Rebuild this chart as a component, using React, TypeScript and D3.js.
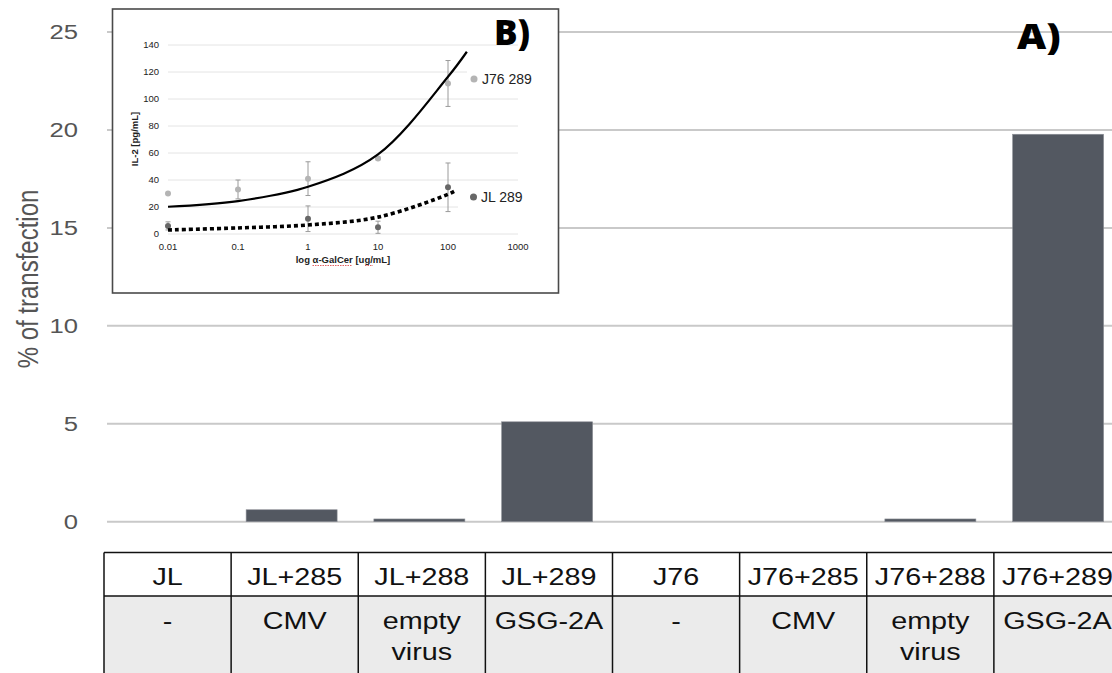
import React from "react";
import * as d3 from "d3";

// ---------- Data: panel A ----------
const categories = ["JL", "JL+285", "JL+288", "JL+289", "J76", "J76+285", "J76+288", "J76+289"];
const vectors = ["-", "CMV", "empty|virus", "GSG-2A", "-", "CMV", "empty|virus", "GSG-2A"];
const transfection = [0, 0.61, 0.14, 5.1, 0, 0, 0.14, 19.78];
const yTicks = [0, 5, 10, 15, 20, 25];

// ---------- Data: panel B (inset) ----------
const doses = [0.01, 0.1, 1, 10, 100];
const j76Mean = [30, 33, 41, 56, 111.5];
const j76Err = [0, 7, 12.5, 1, 17];
const jlMean: (number | null)[] = [6, null, 11.3, 5, 34.6];
const jlErr = [3, 0, 9.5, 4.5, 18];
const j76TrendX = [0.01, 0.1, 1, 10, 100, 186];
const j76TrendY = [20.2, 24.4, 35, 59, 116.5, 135];
const jlTrendX = [0.01, 0.1, 1, 10, 100, 133];
const jlTrendY = [3, 4.5, 6.7, 12.5, 29.4, 32.6];
const insetYTicks = [0, 20, 40, 60, 80, 100, 120, 140];
const insetXTicks = [0.01, 0.1, 1, 10, 100, 1000];
const insetXTickLabels = ["0.01", "0.1", "1", "10", "100", "1000"];

const SX = 1.25; // horizontal stretch of the main panel text
const SANS = "'Liberation Sans', Arial, Helvetica, sans-serif";

export default function App() {
  const W = 1112, H = 673;
  // main scales
  const y = d3.scaleLinear().domain([0, 25]).range([521.7, 32]);
  const x = d3.scaleBand<string>().domain(categories).range([100, 1122]).padding(0);
  const barW = 91;
  const tx = d3.scaleBand<string>().domain(categories).range([104, 1121]).padding(0);

  // inset scales
  const ix = d3.scaleLog().domain([0.01, 1000]).range([168, 518]);
  const iy = d3.scaleLinear().domain([0, 140]).range([234, 45]);
  const line = d3
    .line<[number, number]>()
    .x((d) => ix(d[0]))
    .y((d) => iy(d[1]))
    .curve(d3.curveCatmullRom.alpha(0.5));
  const j76Path = line(j76TrendX.map((v, i) => [v, j76TrendY[i]] as [number, number])) || "";
  const jlPath = line(jlTrendX.map((v, i) => [v, jlTrendY[i]] as [number, number])) || "";

  const tableTop = 552.5;
  const rowDiv = 596;

  return (
    <svg width={W} height={H} style={{ position: "absolute", left: 0, top: 0, background: "#fff" }}>
      <rect x={0} y={0} width={W} height={H} fill="#fff" />
      {/* gridlines */}
      {yTicks.map((t) => (
        <line key={"g" + t} x1={107} x2={W} y1={y(t)} y2={y(t)} stroke="#c9c9c9" strokeWidth={2} />
      ))}
      {/* y tick labels */}
      {yTicks.map((t) => (
        <text
          key={"t" + t}
          transform={`translate(78,${y(t)}) scale(${SX},1)`}
          textAnchor="end"
          dy="0.36em"
          fontFamily={SANS}
          fontSize={20.5}
          fill="#555"
        >
          {t}
        </text>
      ))}
      {/* y title */}
      <text
        transform={`translate(27,279) scale(${SX},1) rotate(-90)`}
        textAnchor="middle"
        dy="0.36em"
        fontFamily={SANS}
        fontSize={24}
        fill="#555"
      >
        % of transfection
      </text>
      {/* bars */}
      {categories.map((c, i) => {
        const v = transfection[i];
        if (v <= 0) return null;
        const bx = (x(c) as number) + (x.bandwidth() - barW) / 2;
        return (
          <rect
            key={"b" + c}
            x={bx}
            y={y(v)}
            width={barW}
            height={y(0) - y(v)}
            fill="#535861"
            stroke="#8d9097"
            strokeWidth={0.6}
          />
        );
      })}
      {/* A) label */}
      <text
        transform={`translate(1017,49) scale(1.15,1)`}
        fontFamily="'Open Sans', sans-serif"
        fontWeight={800}
        fontSize={35}
        fill="#000"
      >
        A)
      </text>

      {/* table */}
      <rect x={104} y={rowDiv} width={W - 104} height={H - rowDiv} fill="#ebebeb" />
      <line x1={104} x2={W} y1={tableTop} y2={tableTop} stroke="#111" strokeWidth={1.5} />
      <line x1={104} x2={W} y1={rowDiv} y2={rowDiv} stroke="#111" strokeWidth={1.5} />
      {categories.map((c) => (
        <line
          key={"v" + c}
          x1={tx(c) as number}
          x2={tx(c) as number}
          y1={tableTop}
          y2={H}
          stroke="#111"
          strokeWidth={1.5}
        />
      ))}
      {categories.map((c) => {
        const cx = (tx(c) as number) + tx.bandwidth() / 2;
        return (
          <text
            key={"h" + c}
            transform={`translate(${cx},585) scale(${SX},1)`}
            textAnchor="middle"
            fontFamily={SANS}
            fontSize={23}
            fill="#111"
          >
            {c}
          </text>
        );
      })}
      {vectors.map((v, i) => {
        const c = categories[i];
        const cx = (tx(c) as number) + tx.bandwidth() / 2;
        const parts = v.split("|");
        return parts.map((p, j) => (
          <text
            key={"r" + i + "_" + j}
            transform={`translate(${cx},${629 + j * 31}) scale(${SX},1)`}
            textAnchor="middle"
            fontFamily={SANS}
            fontSize={23}
            fill="#111"
          >
            {p}
          </text>
        ));
      })}

      {/* ---------- inset panel B ---------- */}
      <rect x={112.5} y={9} width={446} height={284} fill="#fff" stroke="#4a4a4a" strokeWidth={1.6} />
      {insetYTicks.map((t) => (
        <line key={"ig" + t} x1={168} x2={518} y1={iy(t)} y2={iy(t)} stroke="#e4e4e4" strokeWidth={1} />
      ))}
      {insetYTicks.map((t) => (
        <text key={"iyt" + t} x={159} y={iy(t)} dy="0.35em" textAnchor="end" fontFamily={SANS} fontSize={9.5} fill="#222">
          {t}
        </text>
      ))}
      {insetXTicks.map((t, i) => (
        <text key={"ixt" + t} x={ix(t)} y={250} textAnchor="middle" fontFamily={SANS} fontSize={9.5} fill="#222">
          {insetXTickLabels[i]}
        </text>
      ))}
      <text
        transform="translate(135,139) rotate(-90)"
        textAnchor="middle"
        dy="0.35em"
        fontFamily={SANS}
        fontSize={9.5}
        fontWeight={700}
        fill="#222"
      >
        IL-2 [pg/mL]
      </text>
      <text x={343} y={263} textAnchor="middle" fontFamily={SANS} fontSize={9.5} fontWeight={700} fill="#222">
        log α-GalCer [ug/mL]
      </text>
      <line x1={312.5} x2={351.5} y1={265.5} y2={265.5} stroke="#e05050" strokeWidth={0.9} strokeDasharray="1.5,1" />
      <line x1={365} x2={373} y1={265.5} y2={265.5} stroke="#e05050" strokeWidth={0.9} strokeDasharray="1.5,1" />

      {/* label backgrounds */}
      <rect x={467} y={66} width={76} height={26} fill="#fff" />
      <rect x={458} y={185} width={85} height={24} fill="#fff" />

      {/* error bars */}
      {doses.map((d, i) => {
        const cx = ix(d);
        const out: JSX.Element[] = [];
        const addErr = (m: number, e: number, k: string) => {
          if (e <= 0) return;
          out.push(
            <g key={k} stroke="#9a9a9a" strokeWidth={1}>
              <line x1={cx} x2={cx} y1={iy(m + e)} y2={iy(Math.max(0, m - e))} />
              <line x1={cx - 2.5} x2={cx + 2.5} y1={iy(m + e)} y2={iy(m + e)} />
              <line x1={cx - 2.5} x2={cx + 2.5} y1={iy(Math.max(0, m - e))} y2={iy(Math.max(0, m - e))} />
            </g>
          );
        };
        addErr(j76Mean[i], j76Err[i], "ej" + i);
        const jm = jlMean[i];
        if (jm !== null) addErr(jm, jlErr[i], "el" + i);
        return <g key={"e" + i}>{out}</g>;
      })}
      {/* points */}
      {doses.map((d, i) => (
        <circle key={"pj" + i} cx={ix(d)} cy={iy(j76Mean[i])} r={3} fill="#b4b4b4" />
      ))}
      {doses.map((d, i) => {
        const m = jlMean[i];
        return m === null ? null : <circle key={"pl" + i} cx={ix(d)} cy={iy(m)} r={3} fill="#676767" />;
      })}
      {/* trend lines */}
      <path d={j76Path} fill="none" stroke="#000" strokeWidth={2.2} />
      <path d={jlPath} fill="none" stroke="#000" strokeWidth={3.6} strokeDasharray="4,3" />

      {/* legend labels */}
      <circle cx={474} cy={79} r={3.5} fill="#b4b4b4" />
      <text x={482} y={79} dy="0.36em" fontFamily={SANS} fontSize={14} fill="#222">
        J76 289
      </text>
      <circle cx={473.5} cy={197} r={3.5} fill="#676767" />
      <text x={481} y={197} dy="0.36em" fontFamily={SANS} fontSize={14} fill="#222">
        JL 289
      </text>

      {/* B) label */}
      <text x={494} y={45} fontFamily="'Open Sans', sans-serif" fontWeight={800} fontSize={35} fill="#000">
        B)
      </text>
    </svg>
  );
}
